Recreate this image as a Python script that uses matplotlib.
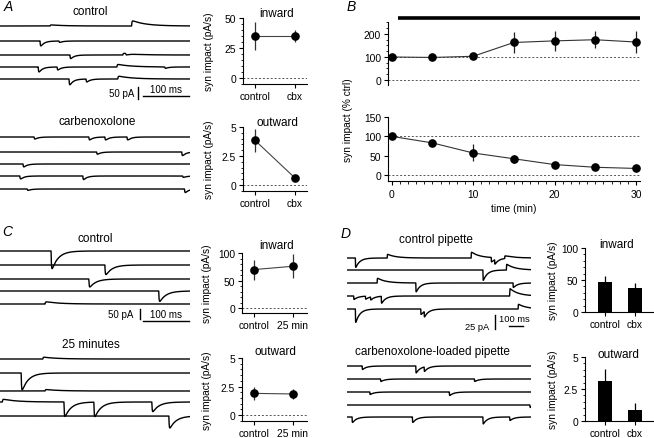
import matplotlib
matplotlib.use("Agg")
import matplotlib.pyplot as plt
import numpy as np
from matplotlib.ticker import MultipleLocator

# ── data ──────────────────────────────────────────────────────────────────────
# spontaneous synaptic events per sweep: (time ms, amplitude pA); negative = inward
A_CTRL_EVENTS = [
    [(109, 5), (286, 24)],
    [(87, -29), (128, -8)],
    [(152, -21), (267, 8), (273, -8)],
    [(83, -29), (124, -17), (254, 12), (358, -8)],
    [(150, -34), (187, -17), (256, 13)],
]
A_CBX_EVENTS = [
    [(74, -12), (193, -17), (228, -17), (276, -17)],
    [(210, -13), (395, -21)],
    [(50, -17)],
    [(43, -17), (180, -21), (397, -8)],
    [(59, -8), (401, -21)],
]
C_CTRL_EVENTS = [
    [(111, -110)],
    [(228, -60)],
    [(193, -50)],
    [(345, -65)],
    [(98, 12)],
]
C_25MIN_EVENTS = [
    [(93, 10)],
    [(46, -105)],
    [(98, 8)],
    [(5, 15), (139, -90), (204, -90), (330, -60)],
    [(367, -75)],
]
D_CTRL_EVENTS = [
    [(59, -19), (284, 7), (877, 11), (1019, -9), (1043, -9), (1114, 5)],
    [(960, -21), (1126, 11)],
    [(213, 9), (486, -18), (1173, -9)],
    [(47, -7), (130, -6), (166, -6), (242, -14), (1149, 14)],
    [(59, -27), (521, -11), (545, -11), (1209, 9)],
]
D_CBX_EVENTS = [
    [(107, -7), (486, -14), (545, -9)],
    [(237, -5), (900, -5)],
    [(161, -5), (723, -7)],
    [(1292, -5)],
    [(36, -11), (462, -11), (960, -14), (1149, -7)],
]

# A: syn impact, control vs carbenoxolone
A_LABELS = ["control", "cbx"]
A_IN_MEAN, A_IN_SEM = [35, 35], [12, 5]
A_OUT_MEAN, A_OUT_SEM = [3.85, 0.6], [1.0, 0.1]

# B: time course, % of control
B_TIME = [0, 5, 10, 15, 20, 25, 30]
B_IN_MEAN = [100, 98, 103, 163, 170, 175, 165]
B_IN_SEM = [4, 4, 10, 45, 42, 38, 47]
B_OUT_MEAN = [100, 83, 57, 42, 27, 20, 17]
B_OUT_SEM = [4, 8, 22, 10, 5, 4, 4]
B_DRUG = (0.75, 30.5)

# C: control vs 25 min
C_LABELS = ["control", "25 min"]
C_IN_MEAN, C_IN_SEM = [70, 76], [18, 22]
C_OUT_MEAN, C_OUT_SEM = [1.9, 1.85], [0.6, 0.4]

# D: control pipette vs carbenoxolone-loaded pipette
D_LABELS = ["control", "cbx"]
D_IN_MEAN, D_IN_SEM = [47, 37], [8.5, 9]
D_OUT_MEAN, D_OUT_SEM = [3.1, 0.88], [1.0, 0.52]

# ── style ─────────────────────────────────────────────────────────────────────
W, H = 654, 439
plt.rcParams.update({
    "font.family": ["Liberation Sans", "DejaVu Sans"],
    "font.size": 7.4,
    "axes.linewidth": 0.8,
    "xtick.major.width": 0.8,
    "ytick.major.width": 0.8,
    "ytick.minor.width": 0.6,
    "xtick.minor.width": 0.6,
    "xtick.major.size": 3,
    "ytick.major.size": 3,
    "xtick.minor.size": 1.8,
    "ytick.minor.size": 1.8,
    "xtick.major.pad": 1.8,
    "ytick.major.pad": 2,
})
TITLE_FS = 8.5
LABEL_FS = 7.3
BAR_FS = 7.0
DOT = dict(color="#555555", lw=0.7, ls=(0, (2, 2)), zorder=0)

fig = plt.figure(figsize=(W / 100, H / 100), dpi=100)


def px_axes(left, top, right, bottom):
    return fig.add_axes([left / W, 1 - bottom / H, (right - left) / W, (bottom - top) / H])


def ftext(x, y, s, **kw):
    fig.text(x / W, 1 - y / H, s, **kw)


# ── traces ────────────────────────────────────────────────────────────────────
def trace_block(box, tmax, pa_px, rows_px, events, tau_in, tau_out):
    left, top, right, bottom = box
    ax = px_axes(*box)
    ax.set_xlim(0, tmax)
    ax.set_ylim(-(bottom - top) * pa_px, 0)
    ax.axis("off")
    t = np.linspace(0, tmax, 3000)
    for row, evs in zip(rows_px, events):
        y = np.zeros_like(t)
        for t0, amp in evs:
            dt = t - t0
            m = dt > 0
            tau = tau_in if amp < 0 else tau_out
            y[m] += amp * (1 - np.exp(-dt[m] / 0.8)) * np.exp(-dt[m] / tau)
        ax.plot(t, y - (row - top) * pa_px, color="k", lw=1.0)

    def to_data(xp, yp):
        return (xp - left) / (right - left) * tmax, -(yp - top) * pa_px
    return ax, to_data


def scalebar(ax, to_data, vx, vtop, hx0, hy, vsize, hsize, vlab, hlab, vlab_xy, hlab_xy,
             fs=BAR_FS):
    x, y0 = to_data(vx, vtop)
    ax.plot([x, x], [y0, y0 - vsize], color="k", lw=1.0, clip_on=False)
    xh, yh = to_data(hx0, hy)
    ax.plot([xh, xh + hsize], [yh, yh], color="k", lw=1.0, clip_on=False)
    ftext(*vlab_xy, vlab, fontsize=fs, ha="right", va="center")
    ftext(*hlab_xy, hlab, fontsize=fs, ha="center", va="center")


# A traces
ax, f = trace_block((0, 20, 190, 102), 413, 4.2, [27, 42, 56, 68, 80], A_CTRL_EVENTS, 8, 30)
scalebar(ax, f, 138, 88, 143, 97, 50, 100, "50 pA", "100 ms", (134, 94), (166, 90))
ftext(90, 12, "control", fontsize=TITLE_FS, ha="center", va="center")
trace_block((0, 130, 190, 196), 413, 4.2, [138, 153, 165, 177, 190], A_CBX_EVENTS, 8, 30)
ftext(97, 122, "carbenoxolone", fontsize=TITLE_FS, ha="center", va="center")

# C traces
ax, f = trace_block((0, 244, 190, 326), 413, 5.0, [252, 266, 280, 292, 305], C_CTRL_EVENTS, 14, 30)
scalebar(ax, f, 140, 310, 143, 322, 50, 100, "50 pA", "100 ms", (133, 315), (166, 315))
ftext(95, 239, "control", fontsize=TITLE_FS, ha="center", va="center")
trace_block((0, 352, 190, 432), 413, 5.0, [360, 374, 392, 403, 417], C_25MIN_EVENTS, 14, 30)
ftext(91, 345, "25 minutes", fontsize=TITLE_FS, ha="center", va="center")

# D traces
ax, f = trace_block((347, 250, 531, 334), 1300, 1.79, [259, 271, 284, 297, 310], D_CTRL_EVENTS, 30, 60)
scalebar(ax, f, 495, 316, 509, 327, 25, 100, "25 pA", "100 ms", (489, 327), (514, 319), fs=6.7)
ftext(436, 240, "control pipette", fontsize=TITLE_FS, ha="center", va="center")
trace_block((347, 360, 531, 426), 1300, 1.79, [367, 380, 393, 406, 418], D_CBX_EVENTS, 30, 60)
ftext(432, 352, "carbenoxolone-loaded pipette", fontsize=TITLE_FS, ha="center", va="center")


# ── summary plots ─────────────────────────────────────────────────────────────
def summary_axes(box, xlim, ylim, major, minor, labels, title, title_xy, ylab_x):
    ax = px_axes(*box)
    ax.set_xlim(*xlim)
    ax.set_ylim(*ylim)
    for s in ("top", "right"):
        ax.spines[s].set_visible(False)
    ax.yaxis.set_minor_locator(MultipleLocator(minor))
    ticks = list(np.arange(0, ylim[1] + 1e-9, major))
    ax.set_yticks(ticks)
    ax.set_yticklabels([f"{v:g}" for v in ticks])
    ax.set_xticks(range(len(labels)))
    ax.set_xticklabels(labels)
    ftext(*title_xy, title, fontsize=TITLE_FS, ha="center", va="center")
    ftext(ylab_x, (box[1] + box[3]) / 2, "syn impact (pA/s)", rotation=90,
          ha="center", va="center", fontsize=LABEL_FS)
    return ax


def points(ax, mean, sem):
    x = range(len(mean))
    ax.axhline(0, **DOT)
    ax.plot(x, mean, color="#444444", lw=0.8, zorder=2)
    ax.errorbar(x, mean, yerr=sem, fmt="o", color="k", ms=5.2, ecolor="#333333",
                elinewidth=0.9, capsize=0, zorder=3)


def bars(ax, mean, sem):
    x = range(len(mean))
    ax.bar(x, mean, width=0.48, color="k")
    ax.errorbar(x, mean, yerr=[[0] * len(sem), sem], fmt="none", ecolor="k",
                elinewidth=0.9, capsize=0)


# A
ax = summary_axes((243, 19, 307, 85), (-0.3, 1.3), (-5, 50), 25, 5, A_LABELS,
                  "inward", (277, 14), 209)
points(ax, A_IN_MEAN, A_IN_SEM)
ax = summary_axes((243, 128, 307, 192), (-0.3, 1.3), (-0.52, 5), 2.5, 0.5, A_LABELS,
                  "outward", (277, 123), 209)
points(ax, A_OUT_MEAN, A_OUT_SEM)

# C
ax = summary_axes((242, 254, 307, 314), (-0.31, 1.36), (-8.6, 100), 50, 10, C_LABELS,
                  "inward", (277, 246), 207)
points(ax, C_IN_MEAN, C_IN_SEM)
ax = summary_axes((242, 359, 307, 422), (-0.31, 1.36), (-0.52, 5), 2.5, 0.5, C_LABELS,
                  "outward", (275, 352), 207)
points(ax, C_OUT_MEAN, C_OUT_SEM)

# D
ax = summary_axes((585, 249, 654, 313), (-0.67, 1.63), (0, 100), 50, 10, D_LABELS,
                  "inward", (617, 245), 553)
bars(ax, D_IN_MEAN, D_IN_SEM)
ax = summary_axes((585, 358, 654, 422), (-0.67, 1.63), (0, 5), 2.5, 0.5, D_LABELS,
                  "outward", (618, 355), 553)
bars(ax, D_OUT_MEAN, D_OUT_SEM)

# B time course
axt = px_axes(388, 23, 640, 86)
axb = px_axes(388, 118, 640, 182)
for a in (axt, axb):
    a.set_xlim(-0.45, 30.5)
    for s in ("top", "right"):
        a.spines[s].set_visible(False)
axt.set_ylim(-21.7, 252)
axt.spines["bottom"].set_visible(False)
axt.set_xticks([])
axt.set_yticks([0, 100, 200])
axt.yaxis.set_minor_locator(MultipleLocator(25))
axb.set_ylim(-15.5, 150)
axb.set_yticks([0, 50, 100, 150])
axb.set_xticks([0, 10, 20, 30])
axb.xaxis.set_minor_locator(MultipleLocator(1))
axb.tick_params(axis="x", pad=3)
axb.set_xlabel("time (min)", fontsize=LABEL_FS, labelpad=3)

for a, mean, sem in ((axt, B_IN_MEAN, B_IN_SEM), (axb, B_OUT_MEAN, B_OUT_SEM)):
    a.axhline(0, **DOT)
    a.axhline(100, **DOT)
    a.plot(B_TIME, mean, color="#333333", lw=0.8, zorder=2)
    a.errorbar(B_TIME, mean, yerr=sem, fmt="o", color="k", ms=5.2, ecolor="#222222",
               elinewidth=0.9, capsize=0, zorder=3)

# drug application bar
axt.plot(B_DRUG, [270, 270], color="k", lw=2.6, solid_capstyle="butt", clip_on=False)
ftext(348, 120, "syn impact (% ctrl)", rotation=90, ha="center", va="center", fontsize=LABEL_FS)

# panel letters
for letter, x, y in (("A", 8, 7), ("B", 351, 7), ("C", 7, 232), ("D", 346, 234)):
    ftext(x, y, letter, fontsize=10, style="italic", ha="center", va="center")

fig.savefig("out.png", dpi=100)
